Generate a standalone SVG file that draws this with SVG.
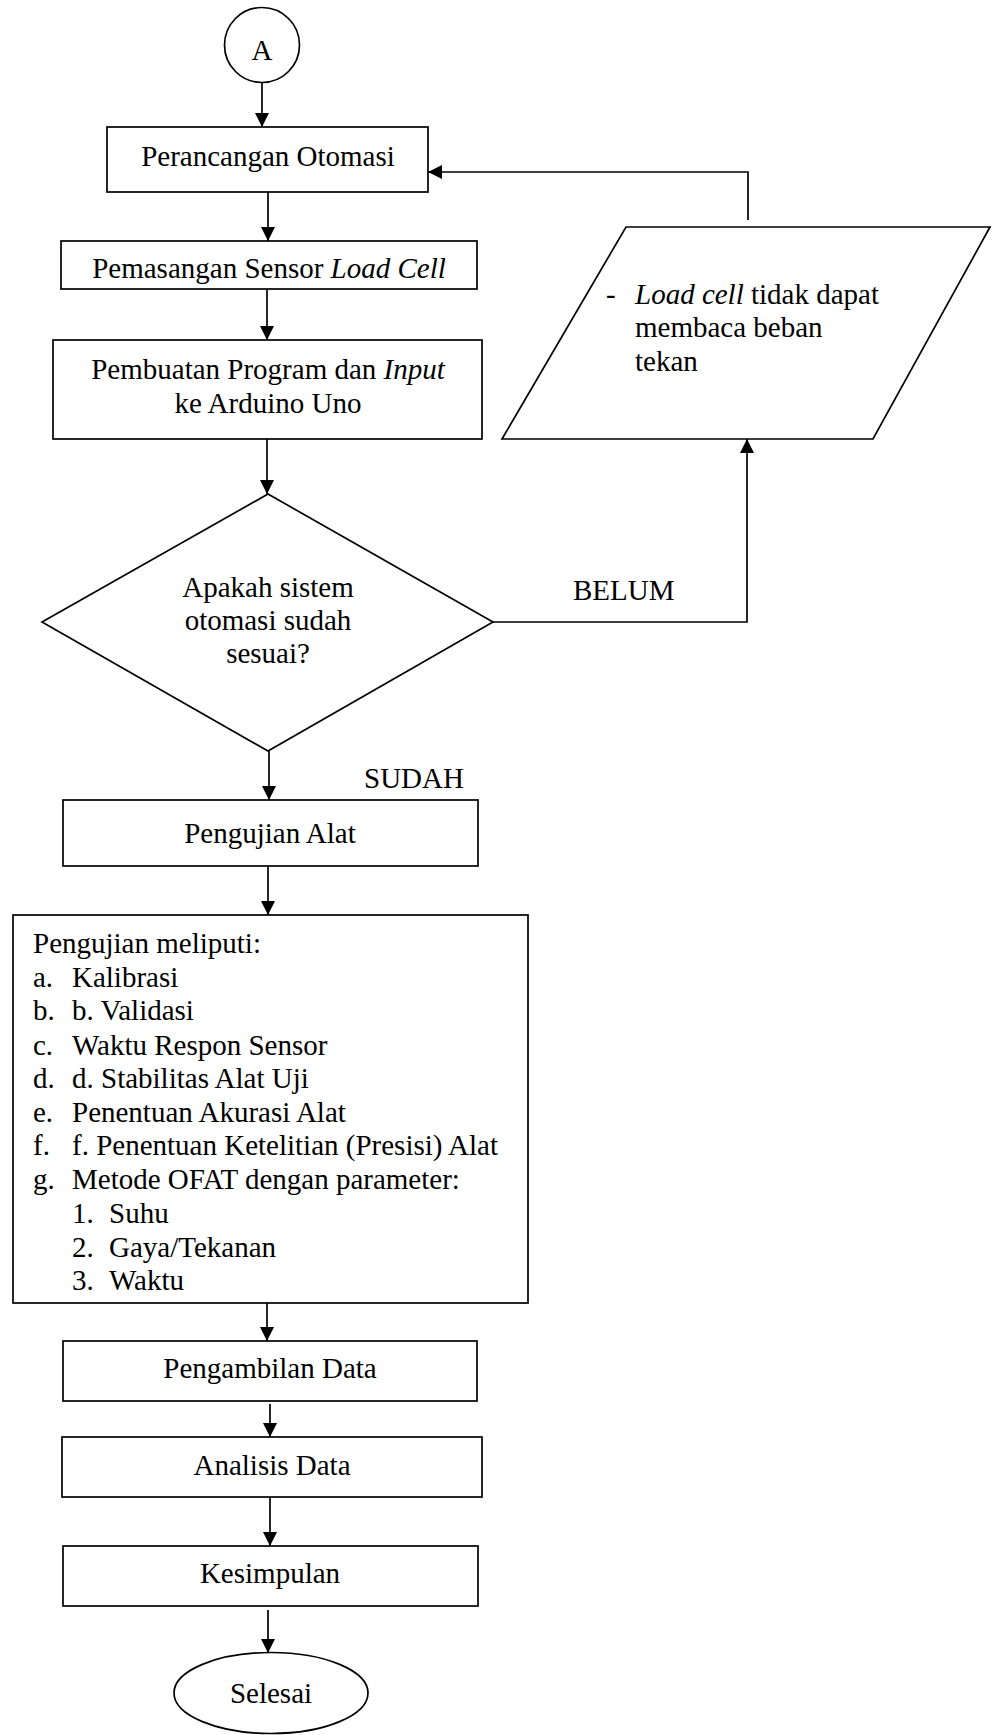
<svg xmlns="http://www.w3.org/2000/svg" width="992" height="1735" viewBox="0 0 992 1735" font-family="'Liberation Serif', 'Times New Roman', Tinos, 'DejaVu Serif', serif" font-size="29">
<style>
.s{fill:#fff;stroke:#000;stroke-width:1.7}
.c{fill:none;stroke:#000;stroke-width:1.7}
text{font-family:'Liberation Serif', 'Times New Roman', Tinos, 'DejaVu Serif', serif;font-size:29px;fill:#000}
.m{text-anchor:middle}
.i{font-style:italic}
</style>
<defs>
<marker id="ah" markerUnits="userSpaceOnUse" markerWidth="14" markerHeight="16" refX="14" refY="7" orient="auto">
<path d="M0,0 L14,7 L0,14 Z" fill="#000"/>
</marker>
<clipPath id="clipPem"><rect x="61" y="241" width="416" height="47"/></clipPath>
</defs>
<rect width="992" height="1735" fill="#fff"/>
<g id="connectors">
<line class="c" x1="262" y1="83" x2="262" y2="127" marker-end="url(#ah)"/>
<line class="c" x1="268" y1="192" x2="268" y2="241" marker-end="url(#ah)"/>
<line class="c" x1="267" y1="289" x2="267" y2="340" marker-end="url(#ah)"/>
<line class="c" x1="267" y1="439" x2="267" y2="494" marker-end="url(#ah)"/>
<line class="c" x1="269" y1="751" x2="269" y2="800" marker-end="url(#ah)"/>
<line class="c" x1="268" y1="866" x2="268" y2="915" marker-end="url(#ah)"/>
<line class="c" x1="267" y1="1303" x2="267" y2="1341" marker-end="url(#ah)"/>
<line class="c" x1="270" y1="1404" x2="270" y2="1437" marker-end="url(#ah)"/>
<line class="c" x1="270" y1="1497" x2="270" y2="1546" marker-end="url(#ah)"/>
<line class="c" x1="268" y1="1610" x2="268" y2="1653" marker-end="url(#ah)"/>
<polyline class="c" points="493,622 747,622 747,439" marker-end="url(#ah)"/>
<polyline class="c" points="748,220 748,172 428,172" marker-end="url(#ah)"/>
<text x="573" y="600">BELUM</text>
<text x="364" y="788">SUDAH</text>
</g>
<g id="node-a">
<circle class="s" cx="262" cy="45" r="37.5"/>
<text class="m" x="262" y="60">A</text>
</g>
<g id="node-perancangan">
<rect class="s" x="107" y="127" width="321" height="65"/>
<text class="m" x="268" y="166">Perancangan Otomasi</text>
</g>
<g id="node-pemasangan">
<rect class="s" x="61" y="241" width="416" height="48"/>
<text class="m" x="269" y="278" clip-path="url(#clipPem)">Pemasangan Sensor <tspan class="i">Load Cell</tspan></text>
</g>
<g id="node-pembuatan">
<rect class="s" x="53" y="340" width="429" height="99"/>
<text class="m" x="268" y="379">Pembuatan Program dan <tspan class="i">Input</tspan></text>
<text class="m" x="268" y="413">ke Arduino Uno</text>
</g>
<g id="node-decision">
<polygon class="s" points="268,494 493,622 268,751 42,622"/>
<text class="m" x="268" y="597">Apakah sistem</text>
<text class="m" x="268" y="630">otomasi sudah</text>
<text class="m" x="268" y="663">sesuai?</text>
</g>
<g id="node-loadcell">
<polygon class="s" points="626,227 990,227 873,439 502,439"/>
<text x="606" y="304">-</text>
<text x="635" y="304"><tspan class="i">Load cell</tspan> tidak dapat</text>
<text x="635" y="337">membaca beban</text>
<text x="635" y="371">tekan</text>
</g>
<g id="node-pengujian-alat">
<rect class="s" x="63" y="800" width="415" height="66"/>
<text class="m" x="270" y="843">Pengujian Alat</text>
</g>
<g id="node-pengujian-meliputi">
<rect class="s" x="13" y="915" width="515" height="388"/>
<text x="33" y="953">Pengujian meliputi:</text>
<text x="33" y="987">a.</text><text x="72" y="987">Kalibrasi</text>
<text x="33" y="1020">b.</text><text x="72" y="1020">b. Validasi</text>
<text x="33" y="1055">c.</text><text x="72" y="1055">Waktu Respon Sensor</text>
<text x="33" y="1088">d.</text><text x="72" y="1088">d. Stabilitas Alat Uji</text>
<text x="33" y="1122">e.</text><text x="72" y="1122">Penentuan Akurasi Alat</text>
<text x="33" y="1155">f.</text><text x="72" y="1155">f. Penentuan Ketelitian (Presisi) Alat</text>
<text x="33" y="1189">g.</text><text x="72" y="1189">Metode OFAT dengan parameter:</text>
<text x="72" y="1223">1.</text><text x="109" y="1223">Suhu</text>
<text x="72" y="1257">2.</text><text x="109" y="1257">Gaya/Tekanan</text>
<text x="72" y="1290">3.</text><text x="109" y="1290">Waktu</text>
</g>
<g id="node-pengambilan">
<rect class="s" x="63" y="1341" width="414" height="60"/>
<text class="m" x="270" y="1378">Pengambilan Data</text>
</g>
<g id="node-analisis">
<rect class="s" x="62" y="1437" width="420" height="60"/>
<text class="m" x="272" y="1475">Analisis Data</text>
</g>
<g id="node-kesimpulan">
<rect class="s" x="63" y="1546" width="415" height="60"/>
<text class="m" x="270" y="1583">Kesimpulan</text>
</g>
<g id="node-selesai">
<ellipse class="s" cx="271" cy="1693" rx="97" ry="40.5"/>
<text class="m" x="271" y="1703">Selesai</text>
</g>
</svg>
